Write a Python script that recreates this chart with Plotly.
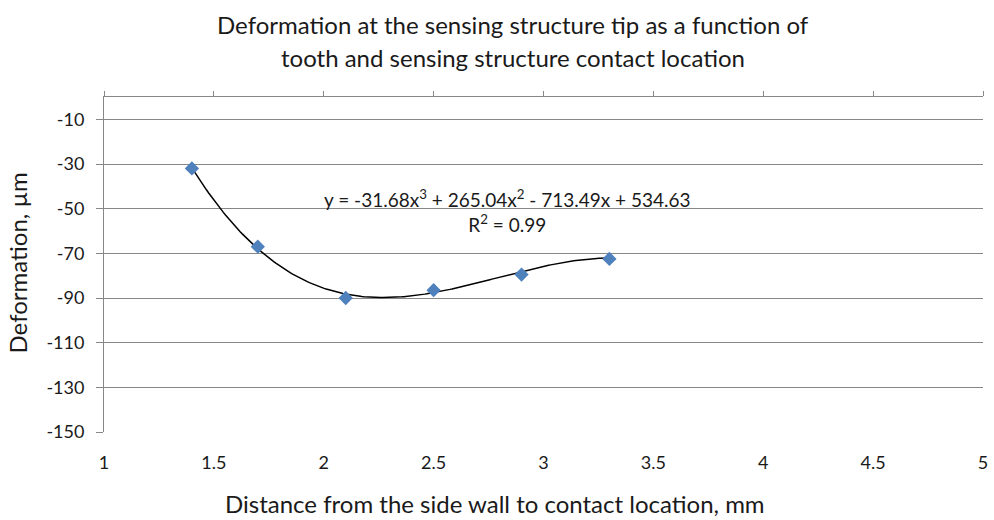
import numpy as np
import plotly.graph_objects as go

x_vals = [1.4, 1.7, 2.1, 2.5, 2.9, 3.3]
y_vals = [-32, -67, -90, -86.5, -79.5, -72.5]
# trendline coefficients as printed on chart (x^3, x^2, x, const)
coef = [-31.68, 265.04, -713.49, 534.63]
x_ticks = [1, 1.5, 2, 2.5, 3, 3.5, 4, 4.5, 5]
x_tick_text = ["1", "1.5", "2", "2.5", "3", "3.5", "4", "4.5", "5"]
y_ticks = [-150, -130, -110, -90, -70, -50, -30, -10]
y_tick_text = ["-150", "-130", "-110", "-90", "-70", "-50", "-30", "-10"]

FONT = "Lato"
TXT = "#1a1a1a"
GRID = "#878787"
xs = np.linspace(min(x_vals), max(x_vals), 200)
ys = np.polyval(coef, xs)

fig = go.Figure()
fig.add_trace(go.Scatter(x=xs, y=ys, mode="lines", line=dict(color="black", width=1.5),
                         hoverinfo="skip", showlegend=False))
fig.add_trace(go.Scatter(x=x_vals, y=y_vals, mode="markers",
                         marker=dict(symbol="diamond", size=11, color="#4F81BD"),
                         showlegend=False))
fig.add_trace(go.Scatter(x=[None], y=[None], xaxis="x2", showlegend=False))

fig.update_layout(
    width=994, height=520,
    margin=dict(l=104, r=6, t=97, b=88),
    paper_bgcolor="white", plot_bgcolor="white",
    font=dict(family=FONT, color=TXT),
    xaxis=dict(range=[1, 5], tickvals=x_ticks, ticktext=x_tick_text,
               showgrid=False, zeroline=False, showline=False, ticks="",
               ticklabelstandoff=18,
               tickfont=dict(size=18, family=FONT, color=TXT)),
    xaxis2=dict(range=[1, 5], tickvals=x_ticks, overlaying="x", side="top", anchor="y",
                showticklabels=False, ticks="outside", ticklen=5, tickcolor=GRID,
                showline=True, linecolor=GRID, linewidth=1, showgrid=False, zeroline=False),
    yaxis=dict(range=[-150, 0], tickvals=y_ticks, ticktext=y_tick_text,
               showgrid=True, gridcolor=GRID,
               gridwidth=1, zeroline=False, showline=True, linecolor=GRID,
               ticks="outside", ticklen=7, tickcolor=GRID, ticklabelstandoff=8,
               tickfont=dict(size=18, family=FONT, color=TXT)),
    annotations=[
        dict(text="y = -31.68x<sup>3</sup> + 265.04x<sup>2</sup> - 713.49x + 534.63<br>R<sup>2</sup> = 0.99",
             x=2.837, y=-51.2, xref="x", yref="y", showarrow=False, align="center",
             font=dict(size=19, family=FONT, color=TXT)),
        dict(text="Deformation at the sensing structure tip as a function of",
             x=0.4649, y=1.2179, xref="paper", yref="paper", showarrow=False,
             xanchor="center", yanchor="middle", font=dict(size=24, family=FONT, color=TXT)),
        dict(text="tooth and sensing structure contact location",
             x=0.4649, y=1.1194, xref="paper", yref="paper", showarrow=False,
             xanchor="center", yanchor="middle", font=dict(size=24, family=FONT, color=TXT)),
        dict(text="Distance from the side wall to contact location, mm",
             x=0.4446, y=-0.2149, xref="paper", yref="paper", showarrow=False,
             xanchor="center", yanchor="middle", font=dict(size=24, family=FONT, color=TXT)),
        dict(text="Deformation, µm", textangle=-90,
             x=-0.0973, y=0.5045, xref="paper", yref="paper", showarrow=False,
             xanchor="center", yanchor="middle", font=dict(size=24, family=FONT, color=TXT)),
    ],
)
fig.write_html("out.html")
